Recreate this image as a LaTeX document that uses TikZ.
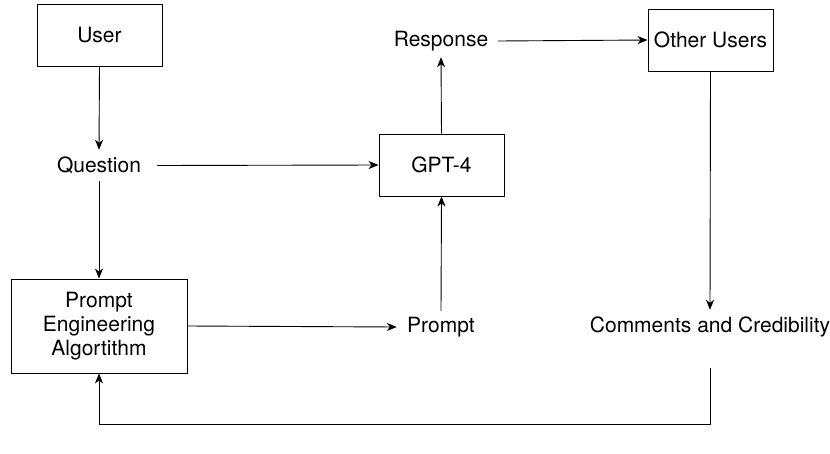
\documentclass[tikz,border=0pt]{standalone}
\usepackage{fontspec}
\setmainfont{TeX Gyre Heros}
\usetikzlibrary{arrows.meta}
\begin{document}
\begin{tikzpicture}[x=1pt,y=-1pt,
  every node/.style={font=\fontsize{21}{24}\selectfont, inner sep=0pt, align=center},
  box/.style={draw, line width=0.9pt, minimum width=125pt, minimum height=62pt},
  lbl/.style={draw=none},
  arr/.style={line width=0.9pt, -{Stealth[length=10pt,width=8pt,inset=3pt]}},
  ln/.style={line width=0.9pt}]
\useasboundingbox (0,0) rectangle (830,453);
\node[box] (user) at (99.5,35) {User};
\node[lbl, minimum width=116pt, minimum height=31pt] (question) at (99,165.5) {Question};
\node[box] (gpt) at (441.5,165) {GPT-4};
\node[lbl, minimum width=114pt, minimum height=32pt] (response) at (441,41) {Response};
\node[box] (other) at (710.5,40) {Other Users};
\node[lbl, minimum width=236pt, minimum height=34pt] (comments) at (710,327) {Comments and Credibility};
\node[box, minimum width=176pt, minimum height=94pt] (pe) at (99,326) {Prompt\\Engineering\\Algortithm};
\node[lbl, minimum width=88pt, minimum height=32pt] (prompt) at (441,327) {Prompt};
\coordinate (ls) at (710,368);
\coordinate (lb) at (710,424);
\draw[arr] (user.south) -- (question.north);
\draw[arr] (question.east) -- (gpt.west);
\draw[arr] (question.south) -- (pe.north);
\draw[arr] (gpt.north) -- (response.south);
\draw[arr] (response.east) -- (other.west);
\draw[arr] (other.south) -- (comments.north);
\draw[arr] (pe.east) -- (prompt.west);
\draw[arr] (prompt.north) -- (gpt.south);
\draw[arr] (ls) -- (lb) -| (pe.south);
\end{tikzpicture}
\end{document}
